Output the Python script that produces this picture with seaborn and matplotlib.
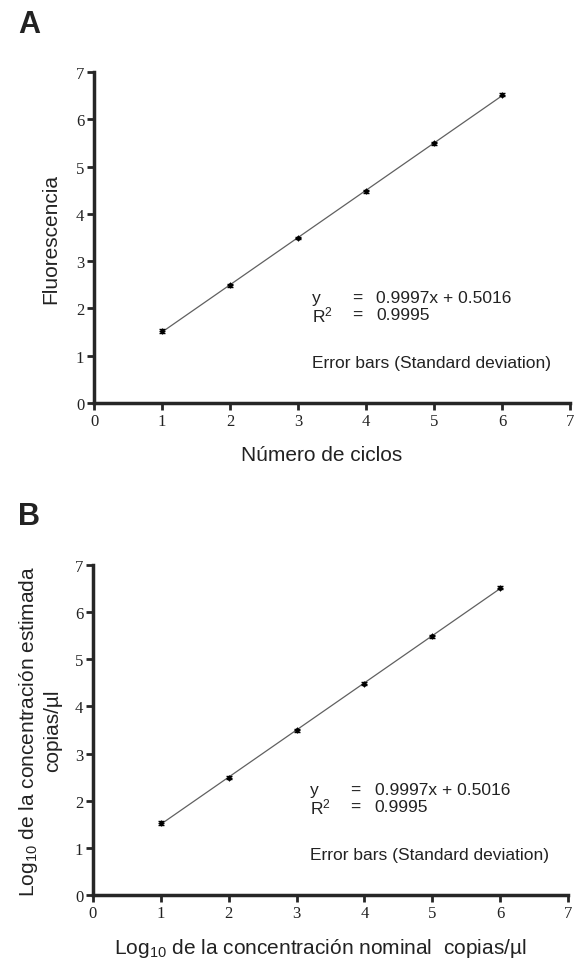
import numpy as np
import matplotlib
matplotlib.use("Agg")
import matplotlib.pyplot as plt
import seaborn as sns
import pandas as pd

# data
ciclos = [1, 2, 3, 4, 5, 6]
fluor = [1.52, 2.49, 3.49, 4.48, 5.49, 6.52]
sd = [0.04, 0.03, 0.03, 0.03, 0.03, 0.03]
slope = 0.9997
intercept = 0.5016
ticks = [0, 1, 2, 3, 4, 5, 6, 7]

sns.set_style("ticks")
plt.rcParams['font.family'] = ['Liberation Sans', 'DejaVu Sans']
plt.rcParams['mathtext.fontset'] = 'custom'
plt.rcParams['mathtext.rm'] = 'Liberation Sans'
plt.rcParams['mathtext.it'] = 'Liberation Sans'

df = pd.DataFrame({"x": ciclos, "y": fluor, "sd": sd})
fit = pd.DataFrame({"x": [ciclos[0], ciclos[-1]]})
fit["y"] = slope * fit["x"] + intercept

fig = plt.figure(figsize=(5.75, 9.62), dpi=100)
axA = fig.add_axes([0.1635, 0.580, 0.8278, 0.344])
axB = fig.add_axes([0.1617, 0.0686, 0.826, 0.343])


def panel(ax, xlabel, ylabel, ylab_pad, xlab_pad):
    sns.lineplot(data=fit, x="x", y="y", ax=ax, color="#606060", lw=0.9)
    ax.errorbar(df["x"], df["y"], yerr=df["sd"], fmt="none",
                ecolor="black", elinewidth=0.8, capsize=2)
    sns.scatterplot(data=df, x="x", y="y", ax=ax, marker="D", s=9,
                    color="black", edgecolor="black", zorder=3)
    ax.set_xlim(0, 7)
    ax.set_ylim(0, 7)
    ax.set_xticks(ticks)
    ax.set_yticks(ticks)
    for s in ["top", "right"]:
        ax.spines[s].set_visible(False)
    for s in ["left", "bottom"]:
        ax.spines[s].set_linewidth(2.5)
    ax.tick_params(direction="out", length=5, width=2, pad=2)
    for lab in ax.get_xticklabels() + ax.get_yticklabels():
        lab.set_fontfamily("Liberation Serif")
        lab.set_fontsize(12)
        lab.set_color("#222222")
    ax.set_xlabel(xlabel, fontsize=15, labelpad=xlab_pad, color="#222222",
                  x=0.478)
    ax.set_ylabel(ylabel, fontsize=15, labelpad=ylab_pad, color="#222222",
                  multialignment="center")
    kw = dict(fontsize=12.5, color="#222222", va="center")
    ax.text(3.2, 2.24, "y", **kw)
    ax.text(3.79, 2.24, "=", **kw)
    ax.text(4.15, 2.24, "0.9997x + 0.5016", **kw)
    ax.text(3.2, 1.88, "R$^{2}$", **kw)
    ax.text(3.79, 1.88, "=", **kw)
    ax.text(4.15, 1.88, "0.9995", **kw)
    ax.text(3.2, 0.85, "Error bars (Standard deviation)", **kw)


panel(axA, "Número de ciclos", "Fluorescencia", 11, 12)
panel(axB, "Log$_{10}$ de la concentración nominal  copias/µl",
      "Log$_{10}$ de la concentración estimada\ncopias/µl", 9, 11)

fig.text(18 / 575, 1 - 25 / 962, "A", fontsize=22, fontweight="bold",
         ha="left", va="center", color="#222222")
fig.text(18 / 575, 1 - 517 / 962, "B", fontsize=22, fontweight="bold",
         ha="left", va="center", color="#222222")

fig.savefig("out.png", dpi=100)
